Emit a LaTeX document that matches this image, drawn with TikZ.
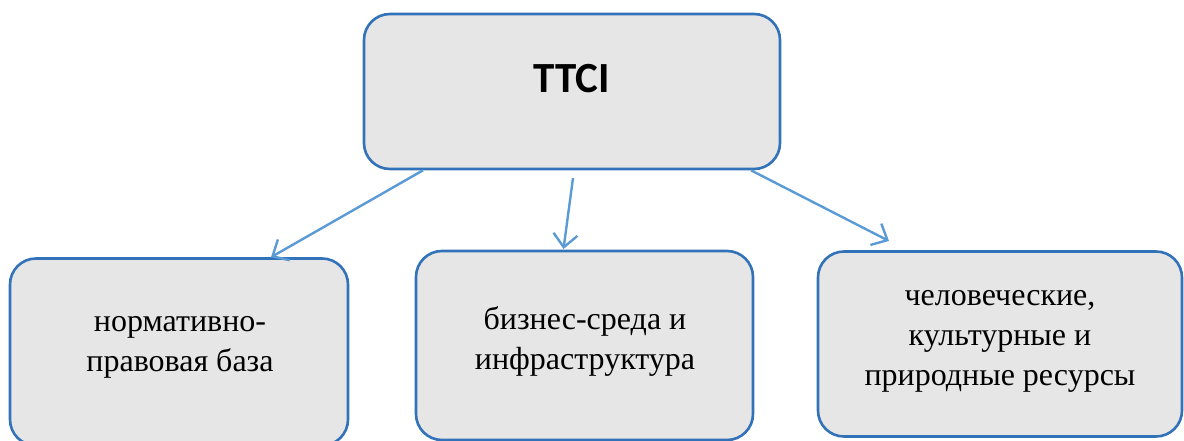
\documentclass[tikz,border=0pt]{standalone}
\usepackage{fontspec}
\setmainfont{Liberation Serif}
\newfontfamily\calibri{Carlito}
\usetikzlibrary{arrows.meta}
\definecolor{boxblue}{RGB}{50,114,184}
\definecolor{boxgray}{RGB}{230,230,230}
\definecolor{linkblue}{RGB}{91,155,213}
\begin{document}
\begin{tikzpicture}[x=1pt,y=-1pt,
  box/.style={draw=boxblue, line width=2.6pt, fill=boxgray, rounded corners=26pt, inner sep=0pt},
  lbl/.style={align=center, font=\fontsize{32}{40}\selectfont, text=black, inner sep=0pt},
  conn/.style={draw=linkblue, line width=2.4pt, -{Straight Barb[length=13pt,width=24pt,line width=2.4pt]}}]
\useasboundingbox (0,0) rectangle (1184,441);
\clip (0,0) rectangle (1184,441);
% boxes
\node[box, minimum width=416pt, minimum height=155pt] (ttci) at (572,91.5) {};
\node[box, minimum width=338pt, minimum height=187pt] (left) at (179,352) {};
\node[box, minimum width=337pt, minimum height=189pt] (mid) at (584.5,345.5) {};
\node[box, minimum width=364pt, minimum height=185pt] (right) at (1000,344) {};
% texts
\node[anchor=base, inner sep=0pt, font=\calibri\bfseries\fontsize{43}{48}\selectfont] (ttcit) at (572,93) {TTCI};
\node[lbl] (leftt) at (180,347) {нормативно-\\правовая база};
\node[lbl] (midt) at (585,341) {бизнес-среда и\\инфраструктура};
\node[lbl] (rightt) at (1000,341) {человеческие,\\культурные и\\природные ресурсы};
% connector end points
\coordinate (s1) at (ttci.south -| 423,0);
\coordinate (e1) at (left.north -| 271,0);
\coordinate (s2) at (573,178);
\coordinate (e2) at (563.5,249);
\coordinate (s3) at (ttci.south -| 751,0);
\coordinate (e3) at (889,241);
\draw[conn] (s1) -- (e1);
\draw[conn] (s2) -- (e2);
\draw[conn] (s3) -- (e3);
\end{tikzpicture}
\end{document}
